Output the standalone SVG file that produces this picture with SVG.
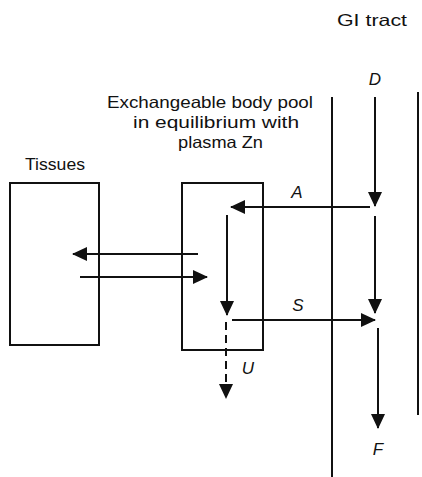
<svg xmlns="http://www.w3.org/2000/svg" width="422" height="477" viewBox="0 0 422 477">
<defs>
<style>
.t{font-family:"Liberation Sans",Arial,sans-serif;font-size:16.5px;fill:#111}
.i{font-family:"Liberation Sans",Arial,sans-serif;font-size:17px;font-style:italic;fill:#111}
.box{fill:none;stroke:#111;stroke-width:2}
.ln{fill:none;stroke:#111;stroke-width:2}
.ar{fill:none;stroke:#111;stroke-width:2;marker-end:url(#ah)}
</style>
<marker id="ah" viewBox="0 0 15 14" refX="14" refY="7" markerUnits="userSpaceOnUse" markerWidth="15" markerHeight="14" orient="auto">
<path d="M0,0 L15,7 L0,14 Z" fill="#111"/>
</marker>
</defs>
<g id="gi-tract">
<text class="t" x="337" y="26" textLength="70" lengthAdjust="spacingAndGlyphs">GI tract</text>
<line class="ln" x1="332" y1="97" x2="332" y2="477"/>
<line class="ln" x1="418" y1="92" x2="418" y2="415"/>
</g>
<g id="tissues">
<text class="t" x="25" y="170" textLength="60" lengthAdjust="spacingAndGlyphs">Tissues</text>
<rect class="box" x="10" y="183" width="89" height="162"/>
</g>
<g id="pool">
<text class="t" x="107" y="108" textLength="206" lengthAdjust="spacingAndGlyphs">Exchangeable body pool</text>
<text class="t" x="133" y="128" textLength="166" lengthAdjust="spacingAndGlyphs">in equilibrium with</text>
<text class="t" x="178" y="148" textLength="85" lengthAdjust="spacingAndGlyphs">plasma Zn</text>
<rect class="box" x="182" y="183" width="81" height="167"/>
</g>
<g id="connectors">
<line class="ar" x1="375" y1="97" x2="375" y2="206"/>
<line class="ar" x1="370" y1="207" x2="231" y2="207"/>
<line class="ar" x1="375" y1="216" x2="375" y2="313"/>
<line class="ar" x1="227" y1="215" x2="227" y2="315"/>
<line class="ar" x1="198" y1="254" x2="73" y2="254"/>
<line class="ar" x1="80" y1="277" x2="207" y2="277"/>
<line class="ar" x1="232" y1="320" x2="375" y2="320"/>
<line class="ar" x1="378" y1="328" x2="378" y2="428"/>
<line class="ar" x1="226" y1="322" x2="226" y2="398" stroke-dasharray="8,5"/>
<text class="i" x="375" y="85" text-anchor="middle">D</text>
<text class="i" x="297" y="198" text-anchor="middle">A</text>
<text class="i" x="298" y="311" text-anchor="middle">S</text>
<text class="i" x="248" y="374" text-anchor="middle">U</text>
<text class="i" x="378" y="455" text-anchor="middle">F</text>
</g>
</svg>
